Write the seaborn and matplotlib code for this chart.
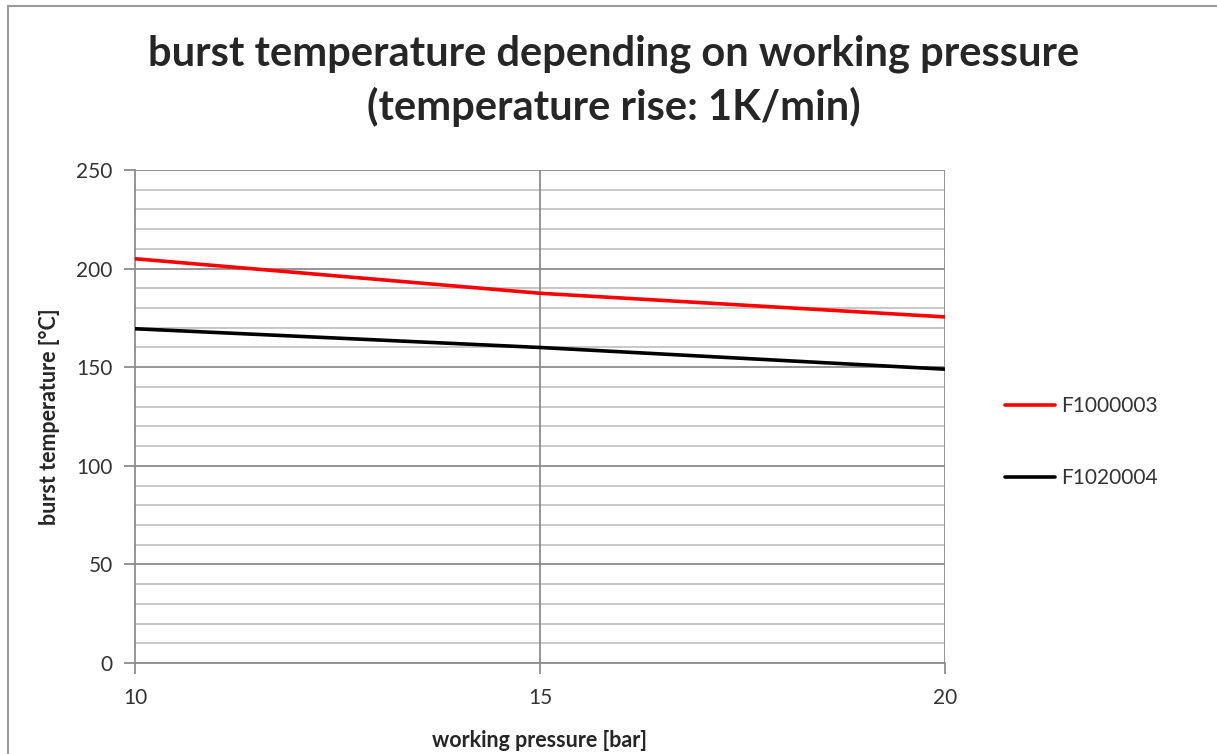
#------------------------ burst temperature chart ------------------------#
#Module
import numpy as np
import pandas as pd
import matplotlib
matplotlib.use('Agg')
import matplotlib.pyplot as plt
from matplotlib.lines import Line2D
import seaborn as sns

#Daten
pressure = [10, 15, 20]
temp_f1000003 = [205, 187.5, 175.5]
temp_f1020004 = [169.5, 160, 149]
series_names = ['F1000003', 'F1020004']
series_colors = {'F1000003': '#ff0000', 'F1020004': '#000000'}

df = pd.DataFrame({
    'pressure': pressure * 2,
    'temp': temp_f1000003 + temp_f1020004,
    'series': [series_names[0]] * 3 + [series_names[1]] * 3,
})

#Stil
sns.set_style('white')
plt.rcParams['font.family'] = ['Lato', 'DejaVu Sans']

fig = plt.figure(figsize=(12.17, 7.54), dpi=100)
ax = fig.add_axes([135/1217, 91/754, 810/1217, 493/754])

#Gitter
for v in np.arange(0, 251, 10):
    major = v % 50 == 0
    ax.axhline(v, color='#8c8c8c' if major else '#c4c4c4', lw=1.3, zorder=0)
for v in [15, 20]:
    ax.axvline(v, color='#8c8c8c', lw=1.3, zorder=0)

sns.lineplot(data=df, x='pressure', y='temp', hue='series', palette=series_colors,
             lw=2.6, ax=ax, legend=False, zorder=3)

ax.set_xlim(10, 20)
ax.set_ylim(0, 250)
ax.set_xticks([10, 15, 20])
ax.set_yticks(range(0, 251, 50))
for s in ['top', 'right']:
    ax.spines[s].set_visible(False)
for s in ['left', 'bottom']:
    ax.spines[s].set_color('#8c8c8c')
    ax.spines[s].set_linewidth(1.3)
ax.tick_params(axis='both', which='major', direction='out', length=8, width=1.3,
               color='#8c8c8c', labelsize=15, labelcolor='#333333', left=True, bottom=True)
ax.tick_params(axis='x', pad=10)
ax.tick_params(axis='y', pad=8)

ax.set_xlabel('working pressure [bar]', fontsize=15.5, fontweight='bold', labelpad=16)
ax.set_ylabel('burst temperature [°C]', fontsize=15.5, fontweight='bold', labelpad=12)

#Titel
fig.text(614/1217, 1 - 81/754, 'burst temperature depending on working pressure\n(temperature rise: 1K/min)',
         ha='center', va='center', fontsize=30, fontweight='bold', linespacing=1.42)

#Legende
handles = [Line2D([], [], color=series_colors[n], lw=2.6) for n in series_names]
fig.legend(handles, series_names, loc='center left', bbox_to_anchor=(986/1217, 1 - 442/754),
           frameon=False, fontsize=15, handlelength=2.4, handletextpad=0.3, labelspacing=2.5,
           labelcolor='#333333')

#Rahmen
fig.add_artist(plt.Rectangle((7.5/1217, -0.1), 1.2, 1 - 6.5/754 + 0.1, transform=fig.transFigure,
                             fill=False, edgecolor='#9a9a9a', lw=1.5))

fig.savefig('out.png', dpi=100)
